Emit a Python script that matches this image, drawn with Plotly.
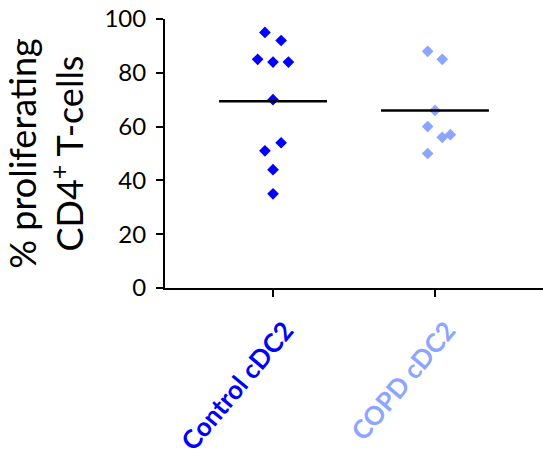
import plotly.graph_objects as go

categories = ["Control cDC2", "COPD cDC2"]
colors = ["#0000FF", "#8CA6FF"]
control_values = [95, 92, 85, 84, 84, 70, 54, 51, 44, 35]
copd_values = [88, 85, 66, 60, 56, 57, 50]
# horizontal jitter (category units) to avoid overlap, as in the reference
control_jitter = [-0.05, 0.05, -0.095, 0.0, 0.095, 0.0, 0.05, -0.05, 0.0, 0.0]
copd_jitter = [-0.045, 0.045, 0.0, -0.045, 0.045, 0.095, -0.045]
y_ticks = [0, 20, 40, 60, 80, 100]

series = [control_values, copd_values]
jitters = [control_jitter, copd_jitter]

fig = go.Figure()
for i, (vals, jit) in enumerate(zip(series, jitters)):
    fig.add_trace(go.Scatter(
        x=[i + j for j in jit], y=vals, mode="markers",
        marker=dict(symbol="diamond", size=9, color=colors[i]),
        showlegend=False, cliponaxis=False))
    m = sum(vals) / len(vals)
    fig.add_trace(go.Scatter(
        x=[i - 0.333, i + 0.333], y=[m, m], mode="lines",
        line=dict(color="black", width=2.5), showlegend=False, cliponaxis=False))

ticktext = [f'<span style="color:{c}"><b>{t}</b></span>' for t, c in zip(categories, colors)]

fig.update_layout(
    width=543, height=465,
    margin=dict(l=165, r=0, t=19, b=177),
    plot_bgcolor="white", paper_bgcolor="white",
    font=dict(family="Lato", color="black"),
    xaxis=dict(range=[-0.667, 1.667], tickvals=[0, 1], ticktext=ticktext,
               tickangle=-50, tickfont=dict(size=26, family="Lato"),
               ticklabelstandoff=8, ticklabelshift=12,
               showline=True, linecolor="black", linewidth=2,
               ticks="outside", ticklen=7, tickwidth=2, tickcolor="black",
               showgrid=False, zeroline=False),
    yaxis=dict(range=[0, 100], tickvals=y_ticks,
               tickfont=dict(size=24, family="Lato"), ticklabelstandoff=5,
               showline=True, linecolor="black", linewidth=2,
               ticks="outside", ticklen=7, tickwidth=2, tickcolor="black",
               showgrid=False, zeroline=False,
               title=dict(text="% proliferating<br>CD4<sup>+</sup> T-cells",
                          font=dict(size=36, family="Lato"), standoff=14)),
)

fig.write_html("out.html")
